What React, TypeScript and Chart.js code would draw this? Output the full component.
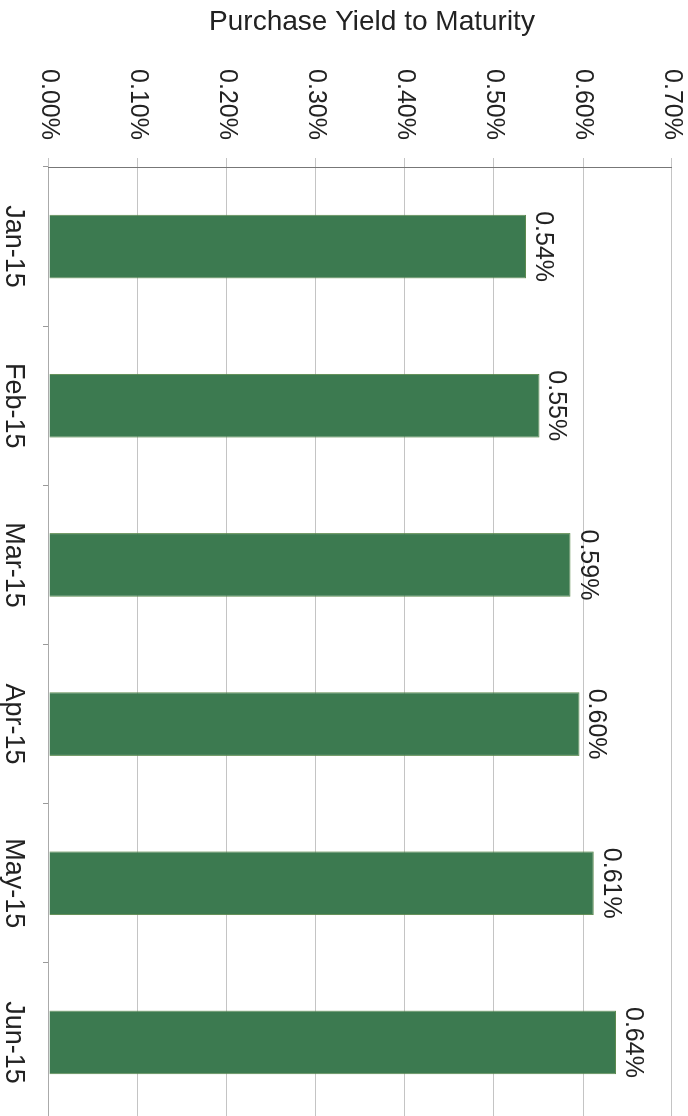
import React, { useEffect, useRef } from 'react';
import { Chart, registerables } from 'chart.js';

Chart.register(...registerables);

const categories: string[] = ['Jan-15', 'Feb-15', 'Mar-15', 'Apr-15', 'May-15', 'Jun-15'];
const yieldValues: number[] = [0.536, 0.551, 0.586, 0.596, 0.612, 0.637];
const axisTitle = 'Purchase Yield to Maturity';
const axisMin = 0;
const axisMax = 0.7;
const axisStep = 0.1;

const FONT = '"Liberation Sans", Arial, Helvetica, sans-serif';

export default function App() {
  const ref = useRef<HTMLCanvasElement | null>(null);

  useEffect(() => {
    if (!ref.current) return;
    const labelPlugin = {
      id: 'valueLabels',
      afterDatasetsDraw(chart: any) {
        const ctx = chart.ctx;
        const meta = chart.getDatasetMeta(0);
        ctx.save();
        ctx.font = `25px ${FONT}`;
        ctx.fillStyle = '#222';
        ctx.textAlign = 'center';
        ctx.textBaseline = 'alphabetic';
        meta.data.forEach((bar: any, i: number) => {
          ctx.fillText(yieldValues[i].toFixed(2) + '%', bar.x, bar.y - 10);
        });
        ctx.restore();
      },
      afterDraw(chart: any) {
        const ctx = chart.ctx;
        ctx.save();
        ctx.font = `28px ${FONT}`;
        ctx.fillStyle = '#222';
        ctx.textAlign = 'center';
        ctx.textBaseline = 'middle';
        ctx.translate(22, 316);
        ctx.rotate(-Math.PI / 2);
        ctx.fillText(axisTitle, 0, 0);
        ctx.restore();
      },
    };

    const chart = new Chart(ref.current, {
      type: 'bar',
      data: {
        labels: categories,
        datasets: [
          {
            data: yieldValues,
            backgroundColor: '#3c7a50',
            borderColor: '#5c8a4e',
            borderWidth: 1,
            categoryPercentage: 1,
            barPercentage: 0.4,
          },
        ],
      },
      options: {
        animation: false,
        responsive: false,
        maintainAspectRatio: false,
        layout: { padding: { top: 16, right: 8, left: 0, bottom: 0 } },
        plugins: { legend: { display: false }, tooltip: { enabled: false } },
        scales: {
          x: {
            offset: true,
            grid: {
              display: true,
              drawOnChartArea: false,
              drawTicks: true,
              tickLength: 6,
              color: '#999',
              offset: true,
            },
            border: { display: true, color: '#aaa', width: 1 },
            ticks: {
              font: { family: FONT, size: 27 },
              color: '#222',
              padding: 13,
              maxRotation: 0,
              minRotation: 0,
            },
            afterFit: (s: any) => {
              s.height = 49;
            },
          },
          y: {
            min: axisMin,
            max: axisMax,
            ticks: {
              stepSize: axisStep,
              callback: (v: any) => Number(v).toFixed(2) + '%',
              font: { family: FONT, size: 25 },
              color: '#222',
              padding: 18,
            },
            grid: { color: '#c4c4c4', tickLength: 9, lineWidth: 1 },
            border: { color: '#777', width: 1 },
            title: { display: false },
            afterFit: (s: any) => {
              s.width = 167;
              s.paddingTop = 0;
              s.paddingBottom = 0;
            },
          },
        },
      },
      plugins: [labelPlugin],
    } as any);

    return () => chart.destroy();
  }, []);

  return (
    <div
      style={{
        position: 'fixed',
        left: 0,
        top: 0,
        width: 1130,
        height: 688,
        transformOrigin: '0 0',
        transform: 'translateX(688px) rotate(90deg)',
        background: '#fff',
      }}
    >
      <canvas ref={ref} width={1130} height={688} style={{ display: 'block' }} />
    </div>
  );
}
